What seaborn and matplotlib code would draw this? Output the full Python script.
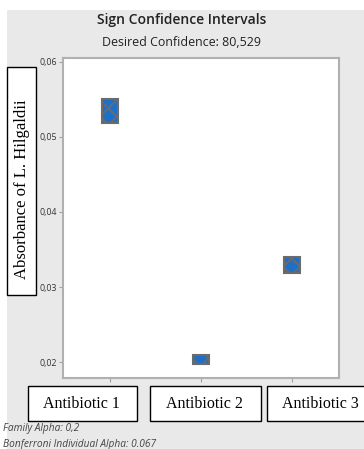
import matplotlib
matplotlib.use("Agg")
import matplotlib.pyplot as plt
from matplotlib.patches import Rectangle
import seaborn as sns
import pandas as pd

categories = ["Antibiotic 1", "Antibiotic 2", "Antibiotic 3"]
lower = [0.0519, 0.0197, 0.0319]
upper = [0.0551, 0.0209, 0.0340]
yticks = [0.02, 0.03, 0.04, 0.05, 0.06]
ytick_labels = ["0,02", "0,03", "0,04", "0,05", "0,06"]
title = "Sign Confidence Intervals"
subtitle = "Desired Confidence: 80,529"
ylabel = "Absorbance of L. Hilgaldii"
notes = ["Family Alpha: 0,2", "Bonferroni Individual Alpha: 0.067"]

df = pd.DataFrame({"cat": categories, "lo": lower, "hi": upper})
df["h"] = df["hi"] - df["lo"]

sns.set_theme(style="white")
plt.rcParams["hatch.linewidth"] = 1.3

W, H = 364, 449
fig = plt.figure(figsize=(W / 100, H / 100), dpi=100, facecolor="white")

def fx(px):
    return px / W

def fy(py):
    return 1 - py / H

# gray backdrop
fig.patches.append(Rectangle((fx(7), 0), 1 - fx(7), fy(10), transform=fig.transFigure,
                             facecolor="#e9e9e9", edgecolor="none", zorder=-10))

ax = fig.add_axes([fx(63), fy(378), (339 - 63) / W, (378 - 58) / H])
ax.set_zorder(2)
ax.set_facecolor("white")

ax.bar(df["cat"], df["h"], bottom=df["lo"], width=0.18, color="#1f6fc6",
       edgecolor="#6b6b6b", linewidth=1.5, hatch="xx", zorder=3)

ax.set_xlim(-0.5165, 2.5165)
ax.set_ylim(0.017867, 0.060533)
ax.set_yticks(yticks)
ax.set_yticklabels(ytick_labels, fontsize=6.3, color="#333333", family="Open Sans")
ax.set_xticks(range(len(categories)))
ax.set_xticklabels([])
ax.tick_params(axis="both", which="both", direction="out", length=3, width=0.8,
               color="#a0a0a0", pad=1.5, left=True, bottom=True)
for s in ax.spines.values():
    s.set_color("#b0b0b0")
    s.set_linewidth(1.5)
ax.set_xlabel("")
ax.set_ylabel("")

# titles
fig.text(0.5, fy(20), title, ha="center", va="center", fontsize=10,
         fontweight="semibold", family="Open Sans", color="#222222")
fig.text(0.5, fy(42), subtitle, ha="center", va="center", fontsize=8.9,
         family="Open Sans", color="#222222")

# y label box
fig.patches.append(Rectangle((fx(7), fy(295)), fx(36) - fx(7), fy(67) - fy(295),
                             transform=fig.transFigure, facecolor="white",
                             edgecolor="black", linewidth=1.0, zorder=5))
fig.text(fx(22), fy(189), ylabel, rotation=90, ha="center", va="center",
         fontsize=12, family="Liberation Serif", color="black", zorder=6)

# category label boxes
boxes = [(28, 137), (150, 261), (267, 375)]
for (x0, x1), lab in zip(boxes, categories):
    fig.patches.append(Rectangle((fx(x0), fy(421)), fx(x1) - fx(x0), fy(386) - fy(421),
                                 transform=fig.transFigure, facecolor="white",
                                 edgecolor="black", linewidth=1.0, zorder=5))
    fig.text(fx((x0 + x1) / 2 - 1), fy(404), lab, ha="center", va="center",
             fontsize=11.5, family="Liberation Serif", color="black", zorder=6)

# footnotes
fig.text(fx(3), fy(429), notes[0], ha="left", va="center", fontsize=7.3,
         style="italic", family="Open Sans", color="#444444")
fig.text(fx(3), fy(444), notes[1], ha="left", va="center", fontsize=7.3,
         style="italic", family="Open Sans", color="#444444")

fig.savefig("out.png", dpi=100, facecolor="white")
